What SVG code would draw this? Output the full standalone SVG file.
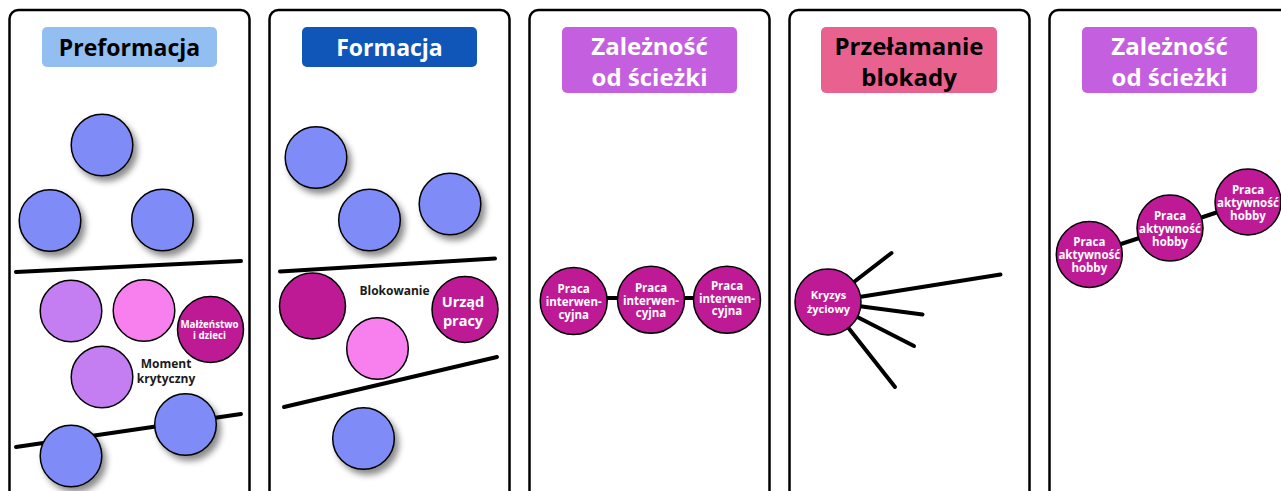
<svg xmlns="http://www.w3.org/2000/svg" width="1281" height="491" viewBox="0 0 1281 491">
  <style>
    .panel { fill: #ffffff; stroke: #000000; stroke-width: 2.5; }
    .hdr { font-family: "Open Sans", "Liberation Sans", sans-serif; font-weight: 700; text-anchor: middle; }
    .hdr1 { font-size: 23px; }
    .hdr2 { font-size: 24px; }
    .node { stroke: #000000; stroke-width: 1.5; }
    .blue { fill: #7F8BF6; }
    .lilac { fill: #C57DF2; }
    .pink { fill: #F880EE; }
    .mag { fill: #BE1A96; }
    .lbl { font-family: "Open Sans", "Liberation Sans", sans-serif; font-weight: 700; text-anchor: middle; }
    .w { fill: #ffffff; }
    .k { fill: #1a1a1a; }
    .bar { stroke: #000000; stroke-width: 4; stroke-linecap: round; fill: none; }
    .link { stroke: #000000; stroke-width: 4; stroke-linecap: round; fill: none; }
  </style>
  <defs>
    <filter id="shadow" x="-30%" y="-30%" width="170%" height="170%">
      <feDropShadow dx="4" dy="5" stdDeviation="3" flood-color="#000000" flood-opacity="0.45"/>
    </filter>
  </defs>

  <rect width="1281" height="491" fill="#ffffff"/>

  <!-- columns -->
  <g id="panels">
    <rect class="panel" x="9.5" y="10" width="240" height="500" rx="9"/>
    <rect class="panel" x="269.5" y="10" width="240" height="500" rx="9"/>
    <rect class="panel" x="529.5" y="10" width="240" height="500" rx="9"/>
    <rect class="panel" x="789.5" y="10" width="240" height="500" rx="9"/>
    <rect class="panel" x="1049.5" y="10" width="240" height="500" rx="9"/>
  </g>

  <!-- column titles -->
  <g id="header-preformacja">
    <rect x="42" y="27" width="175" height="40" rx="5" fill="#93BEF1"/>
    <text class="hdr hdr1" x="129.5" y="55.5" fill="#000000">Preformacja</text>
  </g>
  <g id="header-formacja">
    <rect x="302" y="27" width="175" height="40" rx="5" fill="#1056B8"/>
    <text class="hdr hdr1" x="389.5" y="55.5" fill="#ffffff">Formacja</text>
  </g>
  <g id="header-zaleznosc-1">
    <rect x="562" y="27" width="175" height="66" rx="5" fill="#C460DF"/>
    <text class="hdr hdr2" x="649.5" y="55" fill="#ffffff">Zależność</text>
    <text class="hdr hdr2" x="649.5" y="86" fill="#ffffff">od ścieżki</text>
  </g>
  <g id="header-przelamanie">
    <rect x="821" y="27" width="176" height="66" rx="5" fill="#E8618F"/>
    <text class="hdr hdr2" x="909" y="55" fill="#000000">Przełamanie</text>
    <text class="hdr hdr2" x="909" y="86" fill="#000000">blokady</text>
  </g>
  <g id="header-zaleznosc-2">
    <rect x="1082" y="27" width="175" height="66" rx="5" fill="#C460DF"/>
    <text class="hdr hdr2" x="1169.5" y="55" fill="#ffffff">Zależność</text>
    <text class="hdr hdr2" x="1169.5" y="86" fill="#ffffff">od ścieżki</text>
  </g>

  <!-- dividing bars -->
  <g id="dividers">
    <line class="bar" x1="16" y1="272" x2="241" y2="261"/>
    <line class="bar" x1="16" y1="447" x2="241" y2="414"/>
    <line class="bar" x1="280" y1="271.5" x2="495" y2="258.5"/>
    <line class="bar" x1="284" y1="407" x2="497" y2="357"/>
  </g>

  <!-- connectors -->
  <g id="connectors">
    <line class="link" x1="574" y1="298" x2="727" y2="298"/>
    <polyline class="link" points="1089,254.5 1170,228 1248,202"/>
    <line class="link" x1="828" y1="302" x2="891.5" y2="253"/>
    <line class="link" x1="828" y1="302" x2="1000.5" y2="274.5"/>
    <line class="link" x1="828" y1="302" x2="922.5" y2="314.5"/>
    <line class="link" x1="828" y1="302" x2="914" y2="346"/>
    <line class="link" x1="828" y1="302" x2="895" y2="387"/>
  </g>

  <!-- column 1 -->
  <g id="n-p1-top"><circle class="node blue" filter="url(#shadow)" cx="102" cy="145" r="30.8"/></g>
  <g id="n-p1-left"><circle class="node blue" filter="url(#shadow)" cx="50" cy="220.5" r="30.8"/></g>
  <g id="n-p1-right"><circle class="node blue" filter="url(#shadow)" cx="162.5" cy="220" r="30.8"/></g>
  <g id="n-p1-lilac"><circle class="node lilac" cx="71" cy="311" r="30.8"/></g>
  <g id="n-p1-pink"><circle class="node pink" cx="144" cy="310.5" r="30.8"/></g>
  <g id="n-malzenstwo">
    <circle class="node mag" cx="210.5" cy="329.5" r="33"/>
    <text class="lbl w" x="209.5" y="327.5" font-size="9.7">Małżeństwo</text>
    <text class="lbl w" x="209.5" y="339" font-size="9.7">i dzieci</text>
  </g>
  <g id="n-moment">
    <circle class="node lilac" cx="102" cy="377" r="30.8"/>
    <text class="lbl k" x="166" y="368" font-size="12">Moment</text>
    <text class="lbl k" x="166" y="382.5" font-size="12">krytyczny</text>
  </g>
  <g id="n-p1-bottom-left"><circle class="node blue" filter="url(#shadow)" cx="71" cy="456" r="30.8"/></g>
  <g id="n-p1-bottom-right"><circle class="node blue" filter="url(#shadow)" cx="185.5" cy="424.5" r="30.8"/></g>

  <!-- column 2 -->
  <g id="n-p2-a"><circle class="node blue" filter="url(#shadow)" cx="316" cy="157.5" r="30.8"/></g>
  <g id="n-p2-b"><circle class="node blue" filter="url(#shadow)" cx="369.5" cy="220" r="30.8"/></g>
  <g id="n-p2-c"><circle class="node blue" filter="url(#shadow)" cx="450" cy="204" r="30.8"/></g>
  <g id="n-p2-mag"><circle class="node mag" cx="312.5" cy="306" r="33"/></g>
  <g id="n-blokowanie"><text class="lbl k" x="394.5" y="295" font-size="12">Blokowanie</text></g>
  <g id="n-urzad">
    <circle class="node mag" cx="465" cy="309.5" r="33"/>
    <text class="lbl w" x="463" y="306.5" font-size="14.5">Urząd</text>
    <text class="lbl w" x="463" y="326" font-size="14.5">pracy</text>
  </g>
  <g id="n-p2-pink"><circle class="node pink" cx="377.5" cy="348.5" r="30.8"/></g>
  <g id="n-p2-bottom"><circle class="node blue" filter="url(#shadow)" cx="363.5" cy="438.5" r="30.8"/></g>

  <!-- column 3 -->
  <g id="n-praca-1">
    <circle class="node mag" cx="573.7" cy="301" r="33.5"/>
    <text class="lbl w" x="573.7" y="293" font-size="11.5">Praca</text>
    <text class="lbl w" x="573.7" y="306" font-size="11.5">interwen-</text>
    <text class="lbl w" x="573.7" y="318.5" font-size="11.5">cyjna</text>
  </g>
  <g id="n-praca-2">
    <circle class="node mag" cx="651" cy="299.7" r="33.5"/>
    <text class="lbl w" x="651" y="291.5" font-size="11.5">Praca</text>
    <text class="lbl w" x="651" y="304.5" font-size="11.5">interwen-</text>
    <text class="lbl w" x="651" y="317" font-size="11.5">cyjna</text>
  </g>
  <g id="n-praca-3">
    <circle class="node mag" cx="727" cy="299.7" r="33.5"/>
    <text class="lbl w" x="727" y="289.5" font-size="11.5">Praca</text>
    <text class="lbl w" x="727" y="302.5" font-size="11.5">interwen-</text>
    <text class="lbl w" x="727" y="315" font-size="11.5">cyjna</text>
  </g>

  <!-- column 4 -->
  <g id="n-kryzys">
    <circle class="node mag" cx="828" cy="302" r="33"/>
    <text class="lbl w" x="828.5" y="299" font-size="11">Kryzys</text>
    <text class="lbl w" x="828.5" y="313" font-size="11">życiowy</text>
  </g>

  <!-- column 5 -->
  <g id="n-hobby-1">
    <circle class="node mag" cx="1089.3" cy="254.5" r="33"/>
    <text class="lbl w" x="1089.3" y="246" font-size="11.5">Praca</text>
    <text class="lbl w" x="1089.3" y="259" font-size="11.5">aktywność</text>
    <text class="lbl w" x="1089.3" y="272" font-size="11.5">hobby</text>
  </g>
  <g id="n-hobby-2">
    <circle class="node mag" cx="1170" cy="228" r="33"/>
    <text class="lbl w" x="1170" y="219.5" font-size="11.5">Praca</text>
    <text class="lbl w" x="1170" y="232.5" font-size="11.5">aktywność</text>
    <text class="lbl w" x="1170" y="245.5" font-size="11.5">hobby</text>
  </g>
  <g id="n-hobby-3">
    <circle class="node mag" cx="1248" cy="202" r="33"/>
    <text class="lbl w" x="1248" y="193.5" font-size="11.5">Praca</text>
    <text class="lbl w" x="1248" y="206.5" font-size="11.5">aktywność</text>
    <text class="lbl w" x="1248" y="219.5" font-size="11.5">hobby</text>
  </g>
</svg>
